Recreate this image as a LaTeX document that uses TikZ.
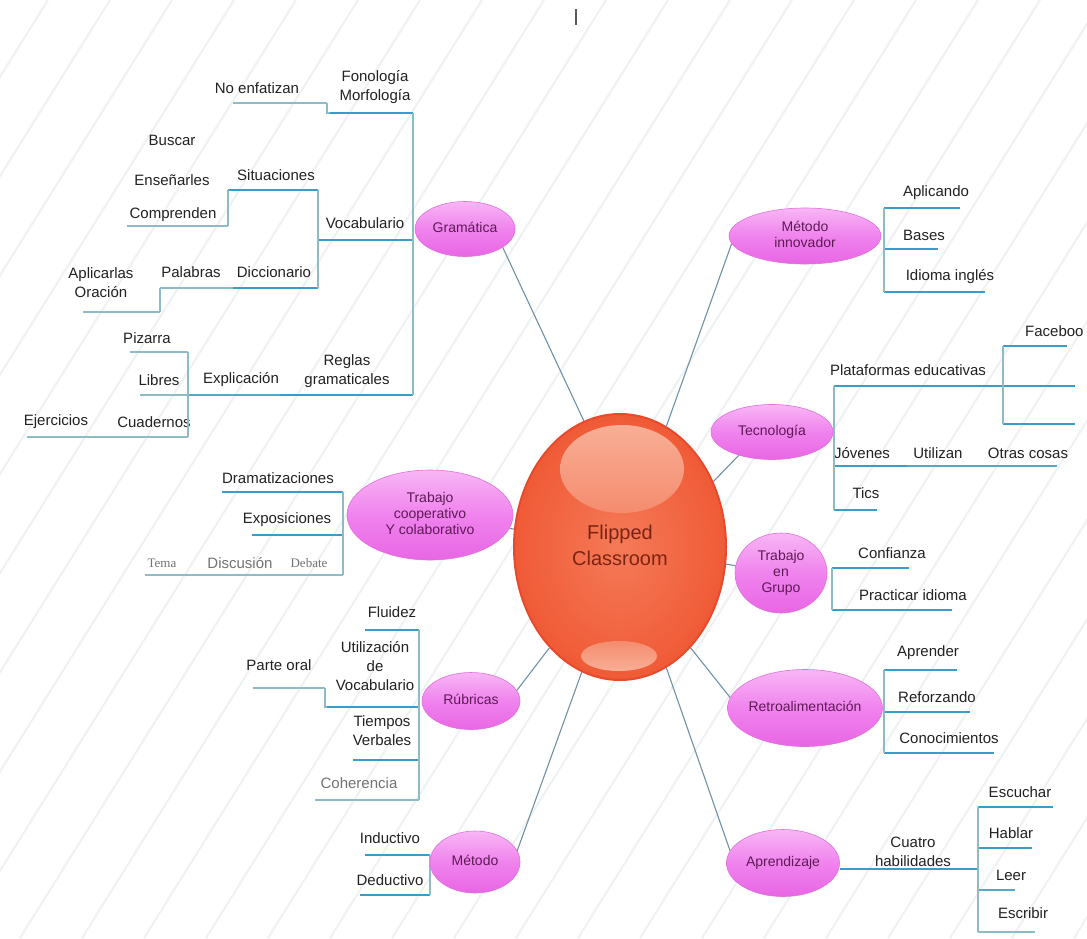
\documentclass[tikz,border=0pt]{standalone}
\usepackage{fontspec}
\setmainfont{Liberation Sans}
\newfontfamily\serifx{Liberation Serif}
\usetikzlibrary{shapes.geometric}
\definecolor{ulblue}{HTML}{3A9CC8}
\definecolor{brc}{HTML}{8DBBC6}
\definecolor{linkc}{HTML}{7191A6}
\definecolor{txt}{HTML}{222222}
\definecolor{stripec}{HTML}{EFF2F2}
\definecolor{pinkL}{HTML}{F8B6F5}
\definecolor{pinkM}{HTML}{F083EE}
\definecolor{pinkD}{HTML}{E866E4}
\definecolor{pinkB}{HTML}{E070DC}
\definecolor{ptext}{HTML}{5E1A55}
\definecolor{rootF}{HTML}{F05A36}
\definecolor{rootIn}{HTML}{F57A58}
\definecolor{rootB}{HTML}{E8492A}
\definecolor{rootH}{HTML}{F8AE96}
\definecolor{rootH2}{HTML}{F58C6E}
\definecolor{roottext}{HTML}{7A2414}
\newcommand\zb[1]{\makebox[0pt]{\begin{tabular}{@{}c@{}}#1\end{tabular}}}
\newcommand\mmlab[9]{%
  \node[#1] (#2) at (#3,#4) {#5};
  \coordinate (#2-l) at (#6,#8);
  \coordinate (#2-r) at (#7,#8);
  \draw[#9] (#2-l) -- (#2-r);}
\begin{document}
\begin{tikzpicture}[x=1pt,y=-1pt,
  lbl/.style={font=\fontsize{15}{19}\selectfont, text=txt, inner sep=0pt, align=center},
  lblg/.style={lbl, text=black!55},
  lblsm/.style={lbl, font=\serifx\fontsize{13}{15}\selectfont, text=black!55},
  ul/.style={draw=ulblue, line width=2.2pt},
  ulm/.style={draw=ulblue!65!brc, line width=1.5pt},
  ulthin/.style={draw=brc, line width=1.1pt},
  br/.style={draw=brc, line width=1.1pt},
  link/.style={draw=linkc, line width=1.1pt},
  pinknode/.style={ellipse, inner sep=0pt, draw=pinkB, line width=0.6pt,
    top color=pinkL, bottom color=pinkD, middle color=pinkM,
    font=\fontsize{14}{16}\selectfont, text=ptext},
  stripe/.style={draw=stripec, line width=2pt}]
\useasboundingbox (0,0) rectangle (1087,938);
\fill[white] (0,0) rectangle (1087,938);
\begin{scope}
\clip (0,0) rectangle (1087,938);
\foreach \k in {0,...,28} \draw[stripe] ({-600+62*\k},938) -- ++(586,-938);
\end{scope}
\draw[line width=1.5pt, black!65] (576,9) -- (576,25);

% ---------- Gramatica branch
\mmlab{lbl}{fon}{375}{87}{Fonología\\Morfología}{330}{413}{113}{ul}
\mmlab{lbl}{noe}{257}{88}{No enfatizan}{233}{327}{103}{ulthin}
\mmlab{lbl}{voc}{365}{223}{Vocabulario}{318}{413}{240}{ul}
\mmlab{lbl}{sit}{276}{175}{Situaciones}{228}{318}{190}{ul}
\mmlab{lbl}{dic}{274}{272}{Diccionario}{233}{318}{288}{ul}
\mmlab{lbl}{com}{173}{215}{Comprenden}{127}{228}{226}{ulthin}
\node[lbl] (ens) at (172,180) {Enseñarles};
\node[lbl] (bus) at (172,140) {Buscar};
\mmlab{lbl}{pal}{191}{272}{Palabras}{160}{233}{288}{ulthin}
\mmlab{lbl}{apl}{101}{283}{Aplicarlas\\Oración}{83}{160}{312}{ulthin}
\mmlab{lbl}{reg}{347}{371}{Reglas\\gramaticales}{280}{413}{395}{ul}
\mmlab{lbl}{exp}{241}{380}{Explicación}{188}{280}{395}{ulm}
\mmlab{lbl}{piz}{147}{338}{Pizarra}{130}{188}{352}{ulthin}
\mmlab{lbl}{lib}{159}{380}{Libres}{140}{188}{395}{ulthin}
\mmlab{lbl}{cua}{154}{422}{Cuadernos}{100}{188}{437}{ulthin}
\mmlab{lbl}{eje}{56}{422}{Ejercicios}{27}{100}{437}{ulthin}
\draw[br] (fon-r) -- (reg-r);
\draw[br] (noe-r) |- (fon-l);
\draw[br] (sit-r) -- (dic-r);
\draw[br] (com-r) -- (sit-l);
\draw[br] (apl-r) -- (pal-l);
\draw[br] (piz-r) -- (cua-r);

% ---------- Trabajo cooperativo branch
\mmlab{lbl}{dra}{278}{478}{Dramatizaciones}{222}{343}{492}{ul}
\mmlab{lbl}{expo}{287}{520}{Exposiciones}{252}{343}{535}{ul}
\mmlab{lblsm}{deb}{309}{563}{Debate}{280}{343}{575}{ulthin}
\mmlab{lblg}{dis}{240}{563}{Discusión}{205}{280}{575}{ulthin}
\mmlab{lblsm}{tem}{162}{563}{Tema}{145}{205}{575}{ulthin}
\draw[br] (dra-r) -- (deb-r);

% ---------- Rubricas branch
\mmlab{lbl}{flu}{392}{612}{Fluidez}{365}{419}{630}{ul}
\mmlab{lbl}{uti}{375}{666}{Utilización\\de\\Vocabulario}{327}{419}{707}{ul}
\mmlab{lbl}{par}{279}{665}{Parte oral}{253}{325}{688}{ulthin}
\mmlab{lbl}{tie}{382}{731}{Tiempos\\Verbales}{353}{419}{760}{ul}
\mmlab{lblg}{coh}{359}{783}{Coherencia}{315}{419}{800}{ulthin}
\draw[br] (flu-r) -- (coh-r);
\draw[br] (par-r) |- (uti-l);

% ---------- Metodo branch
\mmlab{lbl}{ind}{390}{838}{Inductivo}{365}{430}{855}{ul}
\mmlab{lbl}{ded}{390}{880}{Deductivo}{360}{430}{895}{ul}
\draw[br] (ind-r) -- (ded-r);

% ---------- Metodo innovador branch
\mmlab{lbl}{apc}{936}{193}{Aplicando}{884}{960}{208}{ul}
\mmlab{lbl}{bas}{924}{235}{Bases}{884}{938}{249}{ul}
\mmlab{lbl}{idi}{950}{277}{Idioma inglés}{884}{985}{292}{ul}
\draw[br] (apc-l) -- (idi-l);

% ---------- Tecnologia branch
\mmlab{lbl}{pla}{908}{370}{Plataformas educativas}{834}{1003}{386}{ul}
\mmlab{lbl, anchor=west}{fb}{1025}{331}{Faceboo}{1003}{1067}{346}{ul}
\coordinate (fb2-l) at (1003,386); \coordinate (fb2-r) at (1075,386);
\coordinate (fb3-l) at (1003,424); \coordinate (fb3-r) at (1075,424);
\draw[ul] (fb2-l) -- (fb2-r);
\draw[ul] (fb3-l) -- (fb3-r);
\draw[br] (fb-l) -- (fb3-l);
\mmlab{lbl}{jov}{862}{453}{Jóvenes}{834}{907}{466}{ul}
\mmlab{lbl}{uzn}{938}{453}{Utilizan}{907}{972}{466}{ulm}
\mmlab{lbl}{otr}{1028}{453}{Otras cosas}{972}{1057}{466}{ulm}
\mmlab{lbl}{tic}{866}{493}{Tics}{834}{877}{510}{ul}
\draw[br] (pla-l) -- (tic-l);

% ---------- Trabajo en grupo branch
\mmlab{lbl}{con}{892}{553}{Confianza}{832}{909}{568}{ul}
\mmlab{lbl}{pra}{913}{595}{Practicar idioma}{832}{952}{610}{ul}
\draw[br] (con-l) -- (pra-l);

% ---------- Retroalimentacion branch
\mmlab{lbl}{apr}{928}{653}{Aprender}{884}{957}{670}{ul}
\mmlab{lbl}{ref}{937}{697}{Reforzando}{884}{970}{712}{ul}
\mmlab{lbl}{cono}{949}{738}{Conocimientos}{884}{994}{753}{ul}
\draw[br] (apr-l) -- (cono-l);

% ---------- Aprendizaje branch
\mmlab{lbl}{cuh}{913}{852}{Cuatro\\habilidades}{840}{978}{869}{ul}
\mmlab{lbl}{esc}{1020}{792}{Escuchar}{978}{1053}{807}{ul}
\mmlab{lbl}{hab}{1011}{833}{Hablar}{978}{1032}{848}{ul}
\mmlab{lbl}{lee}{1011}{875}{Leer}{978}{1015}{890}{ulm}
\mmlab{lbl}{escr}{1023}{913}{Escribir}{978}{1035}{932}{ulthin}
\draw[br] (esc-l) -- (escr-l);

% ---------- central node
\node[ellipse, minimum width=212, minimum height=266, inner sep=0pt,
  draw=rootB, line width=2pt, inner color=rootIn, outer color=rootF,
  font=\fontsize{20}{26}\selectfont, text=roottext] (root) at (620,547)
  {\zb{Flipped\\Classroom}};
\shade[top color=rootH, bottom color=rootH2] (622,469) ellipse [x radius=62, y radius=44];
\shade[top color=rootH2, bottom color=rootH] (619,656) ellipse [x radius=38, y radius=15];

% ---------- pink nodes
\node[pinknode, minimum width=100, minimum height=55] (gram) at (465,229) {\zb{Gramática}};
\node[pinknode, minimum width=152, minimum height=56] (minn) at (805,236) {\zb{Método\\innovador}};
\node[pinknode, minimum width=122, minimum height=55] (tec) at (772,432) {\zb{Tecnología}};
\node[pinknode, minimum width=92, minimum height=80] (teg) at (781,573) {\zb{Trabajo\\en\\Grupo}};
\node[pinknode, minimum width=155, minimum height=77] (retro) at (805,708) {\zb{Retroalimentación}};
\node[pinknode, minimum width=113, minimum height=67] (apre) at (783,863) {\zb{Aprendizaje}};
\node[pinknode, minimum width=166, minimum height=90] (tco) at (430,515) {\zb{Trabajo\\cooperativo\\Y colaborativo}};
\node[pinknode, minimum width=98, minimum height=57] (rub) at (471,701) {\zb{Rúbricas}};
\node[pinknode, minimum width=90, minimum height=62] (met) at (475,862) {\zb{Método}};

% ---------- links from centre
\draw[link] (root.106) -- (gram.-26);
\draw[link] (root.69) -- (minn.186);
\draw[link] (root.35) -- (tec.215);
\draw[link] (root.-55) -- (retro.172);
\draw[link] (root.-69) -- (apre.167);
\draw[link] (root.253) -- (met.15);
\draw[link] (root.235) -- (rub.13);
\draw[link] (root) -- (tco);
\draw[link] (root) -- (teg);
\end{tikzpicture}
\end{document}
